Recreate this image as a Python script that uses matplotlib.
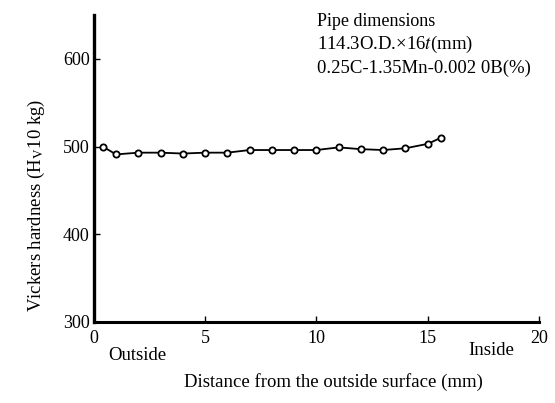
import numpy as np
import matplotlib
matplotlib.use("Agg")
import matplotlib.pyplot as plt

# 外表面からの距離 (mm) と ビッカース硬さ
distance = [0.4, 1, 2, 3, 4, 5, 6, 7, 8, 9, 10, 11, 12, 13, 14, 15, 15.6]
hardness = [500, 491, 493, 493, 492, 493, 493, 496, 496, 496, 496, 499, 497, 496, 498, 503, 510]

x_ticks = [0, 5, 10, 15, 20]
y_ticks = [300, 400, 500, 600]

plt.rcParams['font.family'] = ['Liberation Serif', 'DejaVu Serif']
plt.rcParams['mathtext.fontset'] = 'stix'

fig = plt.figure(figsize=(5.55, 4.03), dpi=100)
ax = fig.add_axes([0.169, 0.201, 0.802, 0.762])

ax.plot(distance, hardness, color='black', lw=1.3, marker='o', ms=4.5,
        mfc='white', mec='black', mew=1.3, clip_on=False)

ax.set_xlim(0, 20)
ax.set_ylim(300, 650)
ax.set_xticks(x_ticks)
ax.set_yticks(y_ticks)
ax.tick_params(direction='in', length=4, width=1, labelsize=13)
ax.tick_params(axis='x', pad=6)
ax.tick_params(axis='y', pad=3)

for s in ['top', 'right']:
    ax.spines[s].set_visible(False)
ax.spines['left'].set_linewidth(2.4)
ax.spines['bottom'].set_linewidth(2.2)

ax.set_ylabel('Vickers hardness (H$_\\mathrm{V}$10 kg)', fontsize=13.5)
ax.yaxis.set_label_coords(-0.105, 0.38)
fig.text(0.6, 0.04, 'Distance from the outside surface (mm)', ha='center', fontsize=13.5)
fig.text(0.195, 0.107, 'Outside', fontsize=13.5)
fig.text(0.843, 0.118, 'Inside', fontsize=13.5)

fig.text(0.572, 0.935, 'Pipe dimensions', fontsize=13)
fig.text(0.572, 0.878, '114.3O.D.×16$t$(mm)', fontsize=13.5)
fig.text(0.572, 0.82, '0.25C-1.35Mn-0.002 0B(%)', fontsize=13.5)

fig.savefig('out.png', dpi=100)
